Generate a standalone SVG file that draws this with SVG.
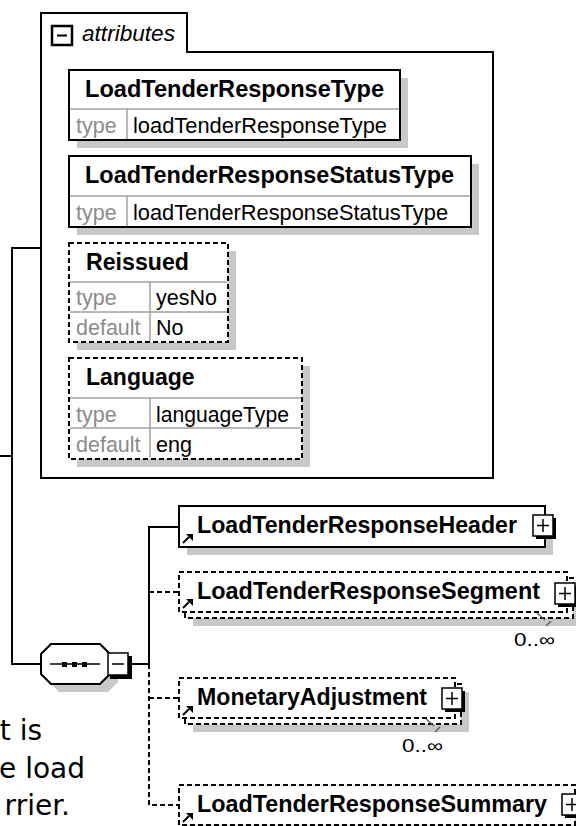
<svg xmlns="http://www.w3.org/2000/svg" width="576" height="826" viewBox="0 0 576 826">
<style>
.frame{fill:#fff;stroke:#000;stroke-width:2}
.box{fill:#fff;stroke:#000;stroke-width:2}
.dbox{fill:#fff;stroke:#000;stroke-width:2;stroke-dasharray:5 3}
.shadow{fill:#c8c8c8}
.div{stroke:#a0a0a0;stroke-width:1.5;fill:none}
.hdr{font-family:"Liberation Sans",Arial,sans-serif;font-weight:bold;font-size:23px;fill:#000}
.lbl{font-family:"Liberation Sans",Arial,sans-serif;font-size:21.5px;fill:#8c8c8c}
.val{font-family:"Liberation Sans",Arial,sans-serif;font-size:21.5px;fill:#000}
.occ{font-family:"Liberation Sans",Arial,sans-serif;font-size:18px;fill:#000}
.side{font-family:"DejaVu Sans",Verdana,sans-serif;font-size:28px;fill:#000}
.conn{fill:none;stroke:#000;stroke-width:2}
.dconn{fill:none;stroke:#000;stroke-width:2;stroke-dasharray:5 3}
.ico{fill:#fff;stroke:#000;stroke-width:1.5}
.icoline{stroke:#000;stroke-width:1.5}
</style>
<defs>
<g id="plus">
<rect x="3" y="3" width="20" height="21" fill="#000"/>
<rect x="0" y="0" width="20" height="21" class="ico"/>
<line x1="4" y1="10.5" x2="16" y2="10.5" class="icoline"/>
<line x1="10" y1="4" x2="10" y2="17" class="icoline"/>
</g>
<g id="ref">
<line x1="0" y1="9" x2="6" y2="3" stroke="#000" stroke-width="2"/>
<polygon points="3,0 10,0 10,7" fill="#000"/>
</g>
</defs>

<g id="connectors">
<path class="conn" d="M0,456 H12"/>
<path class="conn" d="M41,248 H12 V664 H41"/>
<path class="conn" d="M130,664 H149"/>
<path class="conn" d="M149,664 V527 H179"/>
<path class="dconn" d="M149,664 V805 H179"/>
<path class="dconn" d="M149,592 H179"/>
<path class="dconn" d="M149,698 H179"/>
</g>

<g id="attributes">
<path class="frame" d="M41,478 V13 H187 V52 H493 V478 Z"/>
<rect x="52" y="26" width="20" height="19" fill="#fff" stroke="#000" stroke-width="2.5"/>
<line x1="57" y1="35.5" x2="67" y2="35.5" stroke="#000" stroke-width="2"/>
<text x="82" y="41" font-family="'Liberation Sans',Arial,sans-serif" font-style="italic" font-size="22" textLength="93" lengthAdjust="spacingAndGlyphs">attributes</text>
</g>

<g id="attr-LoadTenderResponseType">
<rect class="shadow" x="77" y="78" width="331" height="70"/>
<rect class="box" x="69" y="70" width="331" height="70"/>
<line class="div" x1="70" y1="109" x2="399" y2="109"/>
<line class="div" x1="127" y1="109" x2="127" y2="139"/>
<text class="hdr" x="85" y="97" textLength="299" lengthAdjust="spacingAndGlyphs">LoadTenderResponseType</text>
<text class="lbl" x="76" y="133">type</text>
<text class="val" x="133" y="133" textLength="254" lengthAdjust="spacingAndGlyphs">loadTenderResponseType</text>
</g>

<g id="attr-LoadTenderResponseStatusType">
<rect class="shadow" x="77" y="164" width="402" height="71"/>
<rect class="box" x="69" y="156" width="402" height="71"/>
<line class="div" x1="70" y1="196" x2="470" y2="196"/>
<line class="div" x1="127" y1="196" x2="127" y2="226"/>
<text class="hdr" x="85" y="183" textLength="369" lengthAdjust="spacingAndGlyphs">LoadTenderResponseStatusType</text>
<text class="lbl" x="76" y="220">type</text>
<text class="val" x="133" y="220" textLength="315" lengthAdjust="spacingAndGlyphs">loadTenderResponseStatusType</text>
</g>

<g id="attr-Reissued">
<rect class="shadow" x="77" y="251" width="159" height="99"/>
<rect class="dbox" x="69" y="243" width="159" height="99"/>
<line class="div" x1="70" y1="282" x2="227" y2="282"/>
<line class="div" x1="70" y1="312" x2="227" y2="312"/>
<line class="div" x1="150" y1="282" x2="150" y2="341"/>
<text class="hdr" x="86" y="270" textLength="103" lengthAdjust="spacingAndGlyphs">Reissued</text>
<text class="lbl" x="76" y="305">type</text>
<text class="val" x="156" y="305">yesNo</text>
<text class="lbl" x="76" y="335">default</text>
<text class="val" x="156" y="335">No</text>
</g>

<g id="attr-Language">
<rect class="shadow" x="77" y="366" width="233" height="101"/>
<rect class="dbox" x="69" y="358" width="233" height="101"/>
<line class="div" x1="70" y1="398" x2="301" y2="398"/>
<line class="div" x1="70" y1="428" x2="301" y2="428"/>
<line class="div" x1="150" y1="398" x2="150" y2="458"/>
<text class="hdr" x="86" y="385">Language</text>
<text class="lbl" x="76" y="422">type</text>
<text class="val" x="156" y="422" textLength="133" lengthAdjust="spacingAndGlyphs">languageType</text>
<text class="lbl" x="76" y="452">default</text>
<text class="val" x="156" y="452">eng</text>
</g>

<g id="sequence">
<polygon class="shadow" points="49,662 59,652 108,652 118,662 118,682 108,692 59,692 49,682"/>
<polygon points="41,654 51,644 100,644 110,654 110,674 100,684 51,684 41,674" fill="#fff" stroke="#000" stroke-width="2"/>
<line x1="50" y1="664" x2="100" y2="664" stroke="#000" stroke-width="1.5"/>
<rect x="62" y="662" width="5" height="5" fill="#000"/>
<rect x="72" y="662" width="5" height="5" fill="#000"/>
<rect x="82" y="662" width="5" height="5" fill="#000"/>
<rect x="110" y="656" width="22" height="23" fill="#000"/>
<rect x="108" y="653" width="20" height="22" class="ico"/>
<line x1="112" y1="664" x2="124" y2="664" class="icoline"/>
</g>

<g id="LoadTenderResponseHeader">
<rect class="shadow" x="187" y="514" width="366" height="41"/>
<rect class="box" x="179" y="506" width="366" height="41"/>
<use href="#ref" x="183" y="534"/>
<text class="hdr" x="197" y="533" textLength="320" lengthAdjust="spacingAndGlyphs">LoadTenderResponseHeader</text>
<use href="#plus" x="533" y="515"/>
</g>

<g id="LoadTenderResponseSegment">
<rect class="shadow" x="193" y="586" width="388" height="40"/>
<rect class="dbox" x="185" y="578" width="388" height="40"/>
<rect class="dbox" x="179" y="572" width="388" height="40"/>
<use href="#ref" x="183" y="599"/>
<text class="hdr" x="197" y="599" textLength="343" lengthAdjust="spacingAndGlyphs">LoadTenderResponseSegment</text>
<use href="#plus" x="555" y="583"/>
<polyline points="537,613 545,620" fill="none" stroke="#555" stroke-width="1.2"/>
<polyline points="546,626 551,621" fill="none" stroke="#555" stroke-width="1.2"/>
<text class="occ" x="514" y="646" textLength="41" lengthAdjust="spacingAndGlyphs">0..∞</text>
</g>

<g id="MonetaryAdjustment">
<rect class="shadow" x="193" y="692" width="276" height="40"/>
<rect class="dbox" x="185" y="684" width="276" height="40"/>
<rect class="dbox" x="179" y="678" width="276" height="40"/>
<use href="#ref" x="183" y="706"/>
<text class="hdr" x="197" y="705" textLength="230" lengthAdjust="spacingAndGlyphs">MonetaryAdjustment</text>
<use href="#plus" x="442" y="688"/>
<polyline points="426,719 434,726" fill="none" stroke="#555" stroke-width="1.2"/>
<polyline points="435,732 440,727" fill="none" stroke="#555" stroke-width="1.2"/>
<text class="occ" x="402" y="752" textLength="41" lengthAdjust="spacingAndGlyphs">0..∞</text>
</g>

<g id="LoadTenderResponseSummary">
<rect class="shadow" x="187" y="793" width="396" height="40"/>
<rect class="dbox" x="179" y="785" width="396" height="40"/>
<use href="#ref" x="183" y="813"/>
<text class="hdr" x="197" y="812" textLength="350" lengthAdjust="spacingAndGlyphs">LoadTenderResponseSummary</text>
<use href="#plus" x="562" y="794"/>
</g>

<g id="side-text">
<text class="side" x="42" y="740" text-anchor="end">t is</text>
<text class="side" x="85" y="778" text-anchor="end">e load</text>
<text class="side" x="70" y="815" text-anchor="end">rrier.</text>
</g>
</svg>
